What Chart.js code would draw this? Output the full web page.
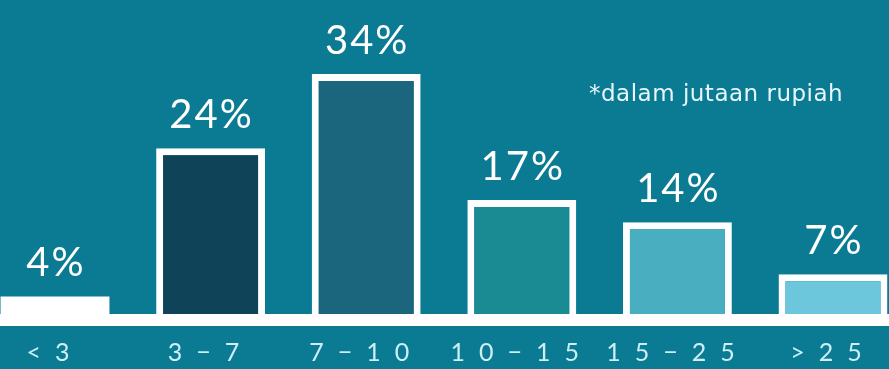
<!DOCTYPE html>
<html>
<head>
<meta charset="utf-8">
<script src="https://cdn.jsdelivr.net/npm/chart.js@4"></script>
<style>
  html, body { margin: 0; padding: 0; background: #0b7b94; }
  #wrap { width: 889px; height: 369px; position: relative; }
</style>
</head>
<body>
<div id="wrap"><canvas id="incomeChart"></canvas></div>
<script>
const categories = ['<3', '3−7', '7−10', '10−15', '15−25', '>25'];
const shares = [4, 24, 34, 17, 14, 7];
const barColors = ['#ffffff', '#0f4358', '#1b667c', '#1a8a93', '#49afc0', '#6cc6dc'];
const note = '*dalam jutaan rupiah';

// white base strip, percent labels and the note
const decorations = {
    id: 'decorations',
    beforeDraw(chart) {
        chart.ctx.letterSpacing = '14px';
    },
    beforeDatasetsDraw(chart) {
        chart.ctx.letterSpacing = '0px';
    },
    afterDatasetsDraw(chart) {
        const ctx = chart.ctx;
        const y0 = chart.scales.y.bottom;
        ctx.save();
        ctx.fillStyle = '#ffffff';
        ctx.fillRect(0, y0 - 1, chart.width, 12);

        ctx.font = '40px Lato';
        ctx.textAlign = 'center';
        ctx.textBaseline = 'alphabetic';
        ctx.letterSpacing = '2px';
        chart.getDatasetMeta(0).data.forEach((bar, i) => {
            ctx.fillText(shares[i] + '%', bar.x + 1, bar.y - 20);
        });

        ctx.font = '23px "DejaVu Sans", sans-serif';
        ctx.letterSpacing = '0.5px';
        ctx.textAlign = 'left';
        ctx.fillStyle = '#e8f6fa';
        ctx.fillText(note, 589, 101);
        ctx.restore();
    }
};

const ctx = document.getElementById('incomeChart').getContext('2d');
const incomeChart = new Chart(ctx, {
    type: 'bar',
    data: {
        labels: categories,
        datasets: [{
            data: shares,
            backgroundColor: barColors,
            borderColor: '#ffffff',
            borderWidth: [0, 7, 7, 7, 7, 7],
            borderSkipped: 'bottom',
            barPercentage: 0.7,
            categoryPercentage: 1,
            clip: false
        }]
    },
    options: {
        responsive: true,
        maintainAspectRatio: false,
        animation: false,
        layout: { padding: { left: 55, right: 56, top: 0, bottom: 0 } },
        plugins: {
            legend: { display: false },
            tooltip: { enabled: false }
        },
        scales: {
            x: {
                offset: false,
                grid: { display: false, drawTicks: false },
                border: { display: false },
                afterFit(scale) { scale.height = 54; },
                ticks: {
                    color: '#cdeef5',
                    font: { family: 'Lato', size: 25 },
                    padding: 23,
                    maxRotation: 0,
                    autoSkip: false
                }
            },
            y: {
                display: false,
                min: 1.5,
                max: 44
            }
        }
    },
    plugins: [decorations]
});
</script>
</body>
</html>
